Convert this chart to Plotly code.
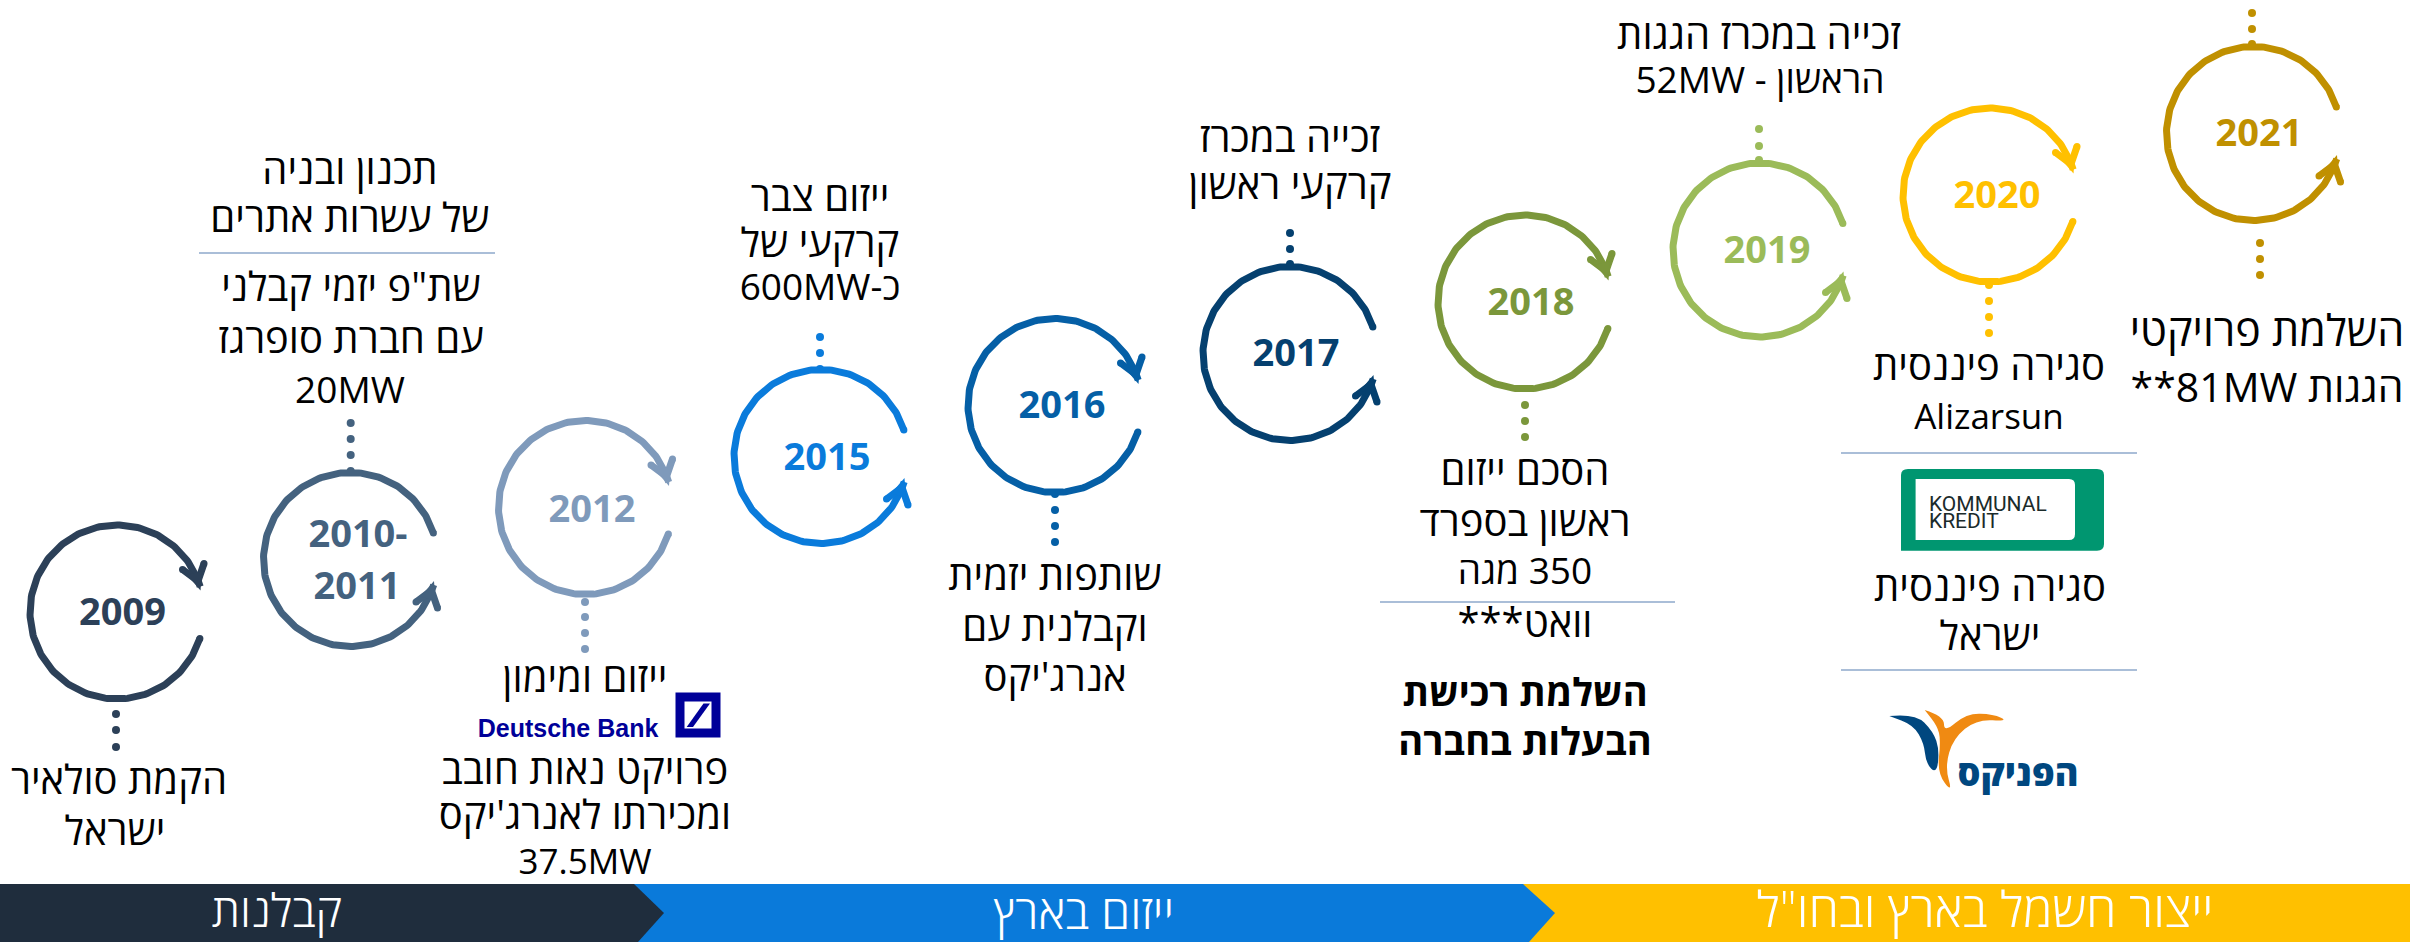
import numpy as np
import plotly.graph_objects as go

RLE, PDF = "\u202b", "\u202c"
W, H = 2410, 942

# ---- milestones ----
years = ["2009", "2010-", "2012", "2015", "2016", "2017", "2018", "2019", "2020", "2021"]
center_x = [117, 350.5, 585.5, 821, 1055, 1290, 1525, 1760, 1990, 2253.5]
center_y = [612, 559.5, 507.5, 456.5, 405.5, 353.5, 302, 250, 195, 133.5]
arrow_dir = [-1, 1, -1, 1, -1, 1, -1, 1, -1, 1]
ring_colors = ["#2C4058", "#44627F", "#7F9ABB", "#0A7BDB", "#055FA6", "#05406F",
               "#7B973B", "#9BBB59", "#FFC000", "#C09000"]
year_x = [122.5, 358, 592, 827, 1062, 1296, 1531, 1767, 1997, 2259]
year_y = [615, 537, 512, 460, 408, 356, 305, 253, 198, 136]

dot_x = [[116]*3, [350.7]*4, [585]*4, [820]*3, [1055]*4, [1290]*3, [1525]*3, [1759]*3,
         [1989]*4, [2252]*3 + [2260]*3]
dot_y = [[714, 730, 747], [423, 439, 455, 471], [602, 617, 633, 649], [337, 353, 369],
         [494, 510, 526, 542], [233, 249, 264], [405, 421, 437], [129, 146, 160],
         [285, 301, 317, 333], [13, 29, 44, 243, 259, 275]]

# ---- body text (one line each) ----
lines = ["הקמת סולאיר", "ישראל",
         "תכנון ובניה", "של עשרות אתרים", 'שת"פ יזמי קבלני', "עם חברת סופרגז", "20MW",
         "ייזום ומימון", "פרויקט נאות חובב", "ומכירתו לאנרג'יקס", "37.5MW",
         "ייזום צבר", "קרקעי של", "כ-600MW",
         "שותפות יזמית", "וקבלנית עם", "אנרג'יקס",
         "זכייה במכרז", "קרקעי ראשון",
         "הסכם ייזום", "ראשון בספרד", "350 מגה", "וואט***",
         "זכייה במכרז הגגות", "הראשון - 52MW",
         "סגירה פיננסית", "Alizarsun", "סגירה פיננסית", "ישראל"]
lines_x = [119, 115, 350, 350, 351, 351, 350, 585, 585, 585, 585, 820, 820, 820,
           1055, 1055, 1055, 1290, 1290, 1525, 1525, 1525, 1525, 1759, 1760, 1989, 1989, 1990, 1990]
lines_y = [784, 835, 174, 222, 291, 343, 394, 682, 774, 819, 865, 201, 247, 291,
           580, 631, 681, 142, 189, 475, 526, 575, 627, 39, 84, 370, 420, 591, 640]

bold_lines = ["השלמת רכישת", "הבעלות בחברה"]
bold_x = [1525, 1525]
bold_y = [696, 745]

large_lines = ["השלמת פרויקטי", "הגגות 81MW**"]
large_x = [2267, 2267]
large_y = [335, 392]

# ---- separators ----
rule_y = [253, 602, 453, 670]
rule_x0 = [199, 1380, 1841, 1841]
rule_x1 = [495, 1675, 2137, 2137]

# ---- bottom band ----
band_labels = ["קבלנות", "ייזום בארץ", 'ייצור חשמל בארץ ובחו"ל']
band_colors = ["#1F2D3D", "#0A7ADA", "#FFC000"]
band_text_x = [277, 1084, 1985]

FONT = "Open Sans"
fig = go.Figure()

def txt(x, y, t, size, color, weight=400, family=FONT, rtl=True):
    labels = [RLE + s + PDF for s in t] if rtl else list(t)
    fig.add_trace(go.Scatter(x=x, y=y, text=labels, mode="text",
                             textposition="middle center", hoverinfo="skip", showlegend=False,
                             cliponaxis=False,
                             textfont=dict(size=size, color=color, family=family, weight=weight)))

def path(pts, close=True):
    return "M " + " L ".join(f"{x:.1f},{y:.1f}" for x, y in pts) + (" Z" if close else "")

def bez(px):
    s = f"M {px[0][0]:.1f},{px[0][1]:.1f} "
    for i in range(1, len(px) - 1):
        mx, my = (px[i][0] + px[i + 1][0]) / 2, (px[i][1] + px[i + 1][1]) / 2
        s += f"Q {px[i][0]:.1f},{px[i][1]:.1f} {mx:.1f},{my:.1f} "
    s += f"L {px[-1][0]:.1f},{px[-1][1]:.1f} Z"
    return s

shapes = []
band_top, band_mid, band_bot = 884, 913, 942
shapes.append(dict(type="rect", x0=0, x1=W, y0=band_top, y1=band_bot, fillcolor=band_colors[2],
                   line_width=0, layer="below"))
shapes.append(dict(type="path", layer="below", line_width=0, fillcolor=band_colors[1],
                   path=path([(0, band_top), (1523, band_top), (1555, band_mid), (1529, band_bot), (0, band_bot)])))
shapes.append(dict(type="path", layer="below", line_width=0, fillcolor=band_colors[0],
                   path=path([(0, band_top), (634, band_top), (664, band_mid), (638, band_bot), (0, band_bot)])))
for y, a, b in zip(rule_y, rule_x0, rule_x1):
    shapes.append(dict(type="line", x0=a, x1=b, y0=y, y1=y, line=dict(color="#8EA9CB", width=1.5)))

db = "#000099"
shapes.append(dict(type="rect", x0=680, x1=716, y0=697, y1=733, line=dict(color=db, width=9), fillcolor="white"))
shapes.append(dict(type="path", line_width=0, fillcolor=db,
                   path=path([(686.7, 727), (693, 727), (710, 703.5), (703.5, 703.5)])))
green = "#009670"
shapes.append(dict(type="path", line_width=0, fillcolor=green, layer="below",
                   path="M 1901,550.7 L 1901,475 Q 1901,469 1908,469 L 2097,469 Q 2104,469 2104,475 "
                        "L 2104,544 Q 2104,550.7 2097,550.7 Z"))
shapes.append(dict(type="path", line_width=0, fillcolor="#FFFFFF", layer="below",
                   path="M 1915.6,540 L 1915.6,479 L 2069,479 Q 2075,479 2075,485 L 2075,534 Q 2075,540 2069,540 Z"))
def ph(p):
    return [(x / 3 + 1820, y / 3 + 700) for x, y in p]
shapes.append(dict(type="path", line_width=0, fillcolor="#00477F", path=bez(ph(
    [(208, 48), (285, 40), (340, 95), (358, 150), (350, 222), (318, 190), (312, 130), (280, 75), (208, 48)]))))
shapes.append(dict(type="path", line_width=0, fillcolor="#F08A12", path=bez(ph(
    [(314, 30), (372, 48), (372, 98), (440, 40), (520, 42), (566, 64), (470, 58), (400, 115), (375, 200),
     (398, 280), (352, 220), (362, 120), (352, 78), (314, 30)]))))

R = 87
LW = 7
for i, (cx, cy, d, col) in enumerate(zip(center_x, center_y, arrow_dir, ring_colors)):
    fig.add_trace(go.Scatter(x=dot_x[i], y=dot_y[i], mode="markers", hoverinfo="skip", showlegend=False,
                             marker=dict(size=8, color=col, line_width=0)))
    th = np.linspace(np.radians(17.7), np.radians(343), 220)
    ax = cx + R * np.cos(th)
    ay = cy - d * R * np.sin(th)
    fig.add_trace(go.Scatter(x=ax, y=ay, mode="lines", hoverinfo="skip", showlegend=False,
                             line=dict(color=col, width=LW)))
    tip = (cx + 83.5, cy + d * 21.5)
    b1 = (cx + 65.5, cy + d * 42.5)
    b2 = (cx + 87, cy + d * 48.5)
    shapes.append(dict(type="path", line_width=0, fillcolor=col,
                       path=path([tip, (cx + 70, cy + d * 37), (cx + 85, cy + d * 41)])))
    fig.add_trace(go.Scatter(x=[b1[0], cx + 81, b2[0]], y=[b1[1], cy + d * 31, b2[1]], mode="lines",
                             hoverinfo="skip", showlegend=False, line=dict(color=col, width=LW)))
    fig.add_trace(go.Scatter(x=[ax[0], b1[0], b2[0]], y=[ay[0], b1[1], b2[1]], mode="markers", hoverinfo="skip",
                             showlegend=False, marker=dict(size=LW, color=col, line_width=0)))

for i, y in enumerate(years):
    txt([year_x[i]], [year_y[i]], [y], 38, ring_colors[i], 700, rtl=False)
txt([357], [589], ["2011"], 38, ring_colors[1], 700, rtl=False)

line_sizes = [35 if s in ("37.5MW", "Alizarsun") else 37 if any(c.isdigit() for c in s) else 40 for s in lines]
txt(lines_x, lines_y, lines, line_sizes, "#000000", 400)
txt(bold_x, bold_y, bold_lines, 38, "#000000", 700)
txt(large_x, large_y, large_lines, [43, 41], "#000000", 400)
for bx, by, bl, bs in zip(band_text_x, [915, 917, 915], band_labels, [46, 47, 49]):
    txt([bx], [by], [bl], bs, "#FFFFFF", 300)

txt([568], [731], ["Deutsche Bank"], 25, db, 700, "Liberation Sans", rtl=False)
fig.add_trace(go.Scatter(x=[1929, 1929], y=[506, 523], text=["KOMMUNAL", "KREDIT"], mode="text",
                         textposition="middle right", hoverinfo="skip", showlegend=False,
                         textfont=dict(size=21, color="#1B2B2B", family="Liberation Sans Narrow, Roboto", weight=400)))
txt([2018], [777], ["הפניקס"], 36, "#00477F", 800)

fig.update_layout(width=W, height=H, margin=dict(l=0, r=0, t=0, b=0), paper_bgcolor="white",
                  plot_bgcolor="white", showlegend=False, shapes=shapes,
                  xaxis=dict(range=[0, W], visible=False, fixedrange=True),
                  yaxis=dict(range=[H, 0], visible=False, fixedrange=True))
fig.write_html("out.html", config=dict(displayModeBar=False),
               post_script="document.body.style.margin='0';document.documentElement.style.overflow='hidden';")
